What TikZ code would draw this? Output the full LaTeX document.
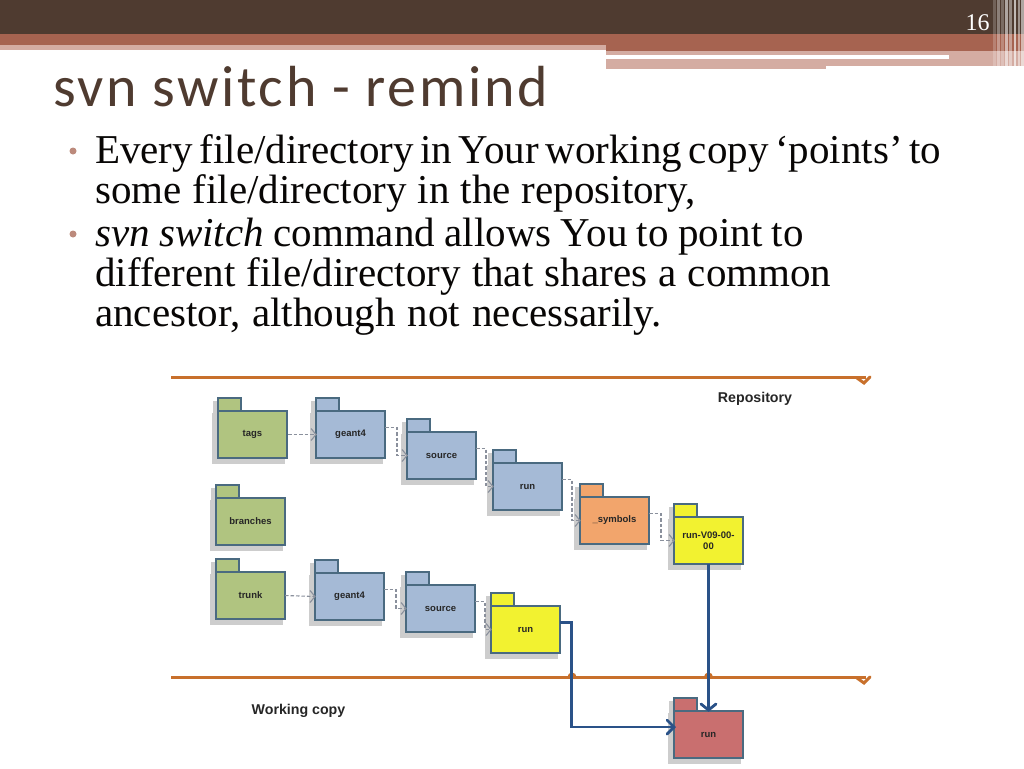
\documentclass[tikz,border=0pt]{standalone}
\usepackage{fontspec}
\usetikzlibrary{calc}
\setmainfont{Liberation Serif}
\newfontfamily\titlefont[LetterSpace=4.5]{Carlito}
\newfontfamily\diagfont{Liberation Sans}
\definecolor{hdark}{HTML}{4F3B30}
\definecolor{hmid}{HTML}{A66350}
\definecolor{hlight}{HTML}{D4ACA2}
\definecolor{fgreen}{HTML}{B0C480}
\definecolor{fblue}{HTML}{A5BAD6}
\definecolor{forange}{HTML}{F2A56C}
\definecolor{fyellow}{HTML}{F2F230}
\definecolor{fred}{HTML}{C96F6F}
\definecolor{shade}{HTML}{CDCDCD}
\definecolor{edgeb}{HTML}{4A6A80}
\definecolor{orangeline}{HTML}{C8702C}
\definecolor{blueline}{HTML}{2A5288}
\definecolor{dashc}{HTML}{8A909C}
\tikzset{
  x=1pt,y=-1pt,
  foldbody/.style={draw=edgeb,line width=1.05pt,fill=#1,minimum width=69pt,minimum height=47pt,inner sep=1pt,outer sep=0pt,anchor=north west,align=center,text width=64pt,font=\diagfont\bfseries\fontsize{9.5}{11.5}\selectfont,text=black!85},
  foldtab/.style={draw=edgeb,line width=1.05pt,fill=#1},
  foldshade/.style={fill=shade,draw=none},
  dashlink/.style={draw=dashc,line width=1.1pt,dash pattern=on 3.5pt off 2pt},
  dashtip/.style={draw=dashc,line width=1.1pt},
  boundary/.style={draw=orangeline,line width=3pt},
  flowline/.style={draw=blueline,line width=2.5pt},
  flowtip/.style={draw=blueline,line width=2.8pt,line cap=round},
  bodytext/.style={anchor=north west,inner sep=0pt,text width=900pt,align=left,font=\fontsize{41}{40}\selectfont,text=black!90!hdark},
  bulletdot/.style={circle,fill=hmid!75,inner sep=0pt,minimum size=7pt},
  caption/.style={font=\diagfont\bfseries\fontsize{14.2}{16}\selectfont,text=black!85,inner sep=0pt}
}
\newcommand{\foldshadow}[2]{%
  \fill[foldshade] (#1-5,#2-10) rectangle ++(23,12);
  \fill[foldshade] (#1-6,#2+2) rectangle ++(73,51);}
\newcommand{\foldfront}[5]{%
  \draw[foldtab=#4] (#2,#3-13) rectangle ++(23,13);
  \node[foldbody=#4] (#1) at (#2,#3) {#5};}
\newcommand{\folder}[5]{\foldshadow{#2}{#3}\foldfront{#1}{#2}{#3}{#4}{#5}}
\newcommand{\wsp}[1]{\spaceskip=#1pt\relax}
\begin{document}
\begin{tikzpicture}
\useasboundingbox (0,0) rectangle (1024,768);
\fill[white] (0,0) rectangle (1024,768);
% header
\fill[hdark] (0,0) rectangle (1024,34);
\fill[hmid] (0,34) rectangle (1024,45);
\fill[hmid] (606,45) rectangle (1024,51);
\fill[hlight] (0,45) rectangle (606,50);
\fill[hlight] (606,51) rectangle (1024,66);
\fill[hlight] (606,66) rectangle (826,69);
\fill[white] (606,55) rectangle (949,58.5);
\foreach \xa/\ww/\oo in {993/3/.2,997/3/.35,1001/3/.25,1005/3/.55,1009/3/.4,1014/2/.65,1018/2/.45,1021/3/.55}
  \fill[white,opacity=\oo] (\xa,0) rectangle (\xa+\ww,68);
\node[inner sep=0pt,text=white,font=\fontsize{24}{24}\selectfont] (pageno) at (977.5,22.5) {16};
\node[anchor=west,inner sep=0pt,text=hdark,font=\titlefont\fontsize{58}{60}\selectfont] (title) at (53,87) {svn switch - remind};
% text
\node[bulletdot] (b1) at (73,151) {};
\node[bulletdot] (b2) at (73,234) {};
\node[bodytext] (t1) at (95,134) {\wsp{6.6}Every file/directory in Your working copy ‘points’ to\\\wsp{11}some file/directory in the repository,};
\node[bodytext] (t2) at (95,218) {\wsp{9.4}\textit{svn switch} command allows You to point to\\\wsp{11.2}different file/directory that shares a common\\\wsp{12}ancestor, although not necessarily.};
% boundaries
\coordinate (r0) at (171,377); \coordinate (r1) at (866,377);
\coordinate (w0) at (171,677); \coordinate (w1) at (866,677);
\draw[boundary] (r0) -- (r1);
\draw[boundary] (w0) -- (w1);
\draw[boundary,line cap=round] (857,378) -- (864,383) -- (870,377);
\draw[boundary,line cap=round] (857,678) -- (864,683) -- (870,677);
\fill[orangeline] (567.5,677) arc[start angle=180,end angle=0,radius=4.5pt] -- cycle;
\fill[orangeline] (704,677) arc[start angle=180,end angle=0,radius=4.5pt] -- cycle;
% folders
\folder{tags}{218}{411}{fgreen}{tags}
\folder{geantA}{316}{411}{fblue}{geant4}
\folder{sourceA}{407}{432}{fblue}{source}
\folder{runA}{493}{463}{fblue}{run}
\folder{symbols}{580}{497}{forange}{\_symbols}
\folder{runV}{674}{517}{fyellow}{run-V09-00-\\00}
\folder{branches}{216}{498}{fgreen}{branches}
\folder{trunk}{216}{572}{fgreen}{trunk}
\folder{geantB}{315}{573}{fblue}{geant4}
\folder{sourceB}{406}{585}{fblue}{source}
\folder{runB}{491}{606}{fyellow}{run}
\folder{runW}{674}{711}{fred}{run}
% dashed links
\draw[dashlink] ($(tags.east)+(1,0)$) -- (geantA.west);
\draw[dashlink] ($(geantA.east)+(0,-7)$) -- ++(12,0) |- (sourceA.west);
\draw[dashlink] ($(sourceA.east)+(0,-7)$) -- ++(10,0) |- (runA.west);
\draw[dashlink] ($(runA.east)+(0,-7)$) -- ++(10,0) |- (symbols.west);
\draw[dashlink] ($(symbols.east)+(0,-7)$) -- ++(12,0) |- (runV.west);
\draw[dashlink] (trunk.east) -- (geantB.west);
\draw[dashlink] ($(geantB.east)+(0,-7)$) -- ++(12,0) |- (sourceB.west);
\draw[dashlink] ($(sourceB.east)+(0,-7)$) -- ++(10,0) |- (runB.west);
\foreach \n in {geantA,sourceA,runA,symbols,runV,geantB,sourceB,runB}
  \draw[dashtip] ($(\n.west)+(-5,-6)$) -- (\n.west) -- ++(-5,6);
% flow
\draw[flowline] (runV.south) -- (runW.north);
\draw[flowtip] (701,704) -- (708.5,710) -- (716,704);
\draw[flowline] ($(runB.east)+(0,-7)$) -| (571.5,727) -- ($(runW.west)+(0,-7.5)$);
\draw[flowtip] (667,720) -- (674,727) -- (667,734);
% captions
\node[caption] (repo) at (755,399) {Repository};
\node[caption] (wcopy) at (298.5,711) {Working copy};
\end{tikzpicture}
\end{document}
